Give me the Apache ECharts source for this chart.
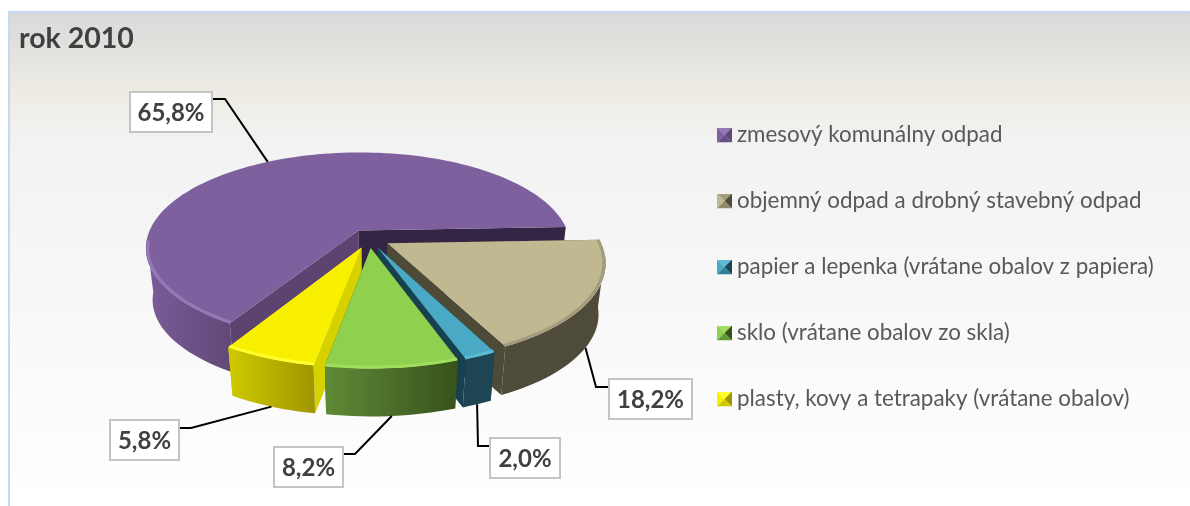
<!DOCTYPE html>
<html>
<head>
<meta charset="utf-8">
<title>rok 2010</title>
<style>
html,body{margin:0;padding:0;background:#fff;}
#main{width:1190px;height:506px;}
</style>
<script src="https://cdn.jsdelivr.net/npm/echarts@6/dist/echarts.min.js"></script>
</head>
<body>
<div id="main"></div>
<script>
/*数据*/
var categories = ['zmesový komunálny odpad','objemný odpad a drobný stavebný odpad','papier a lepenka (vrátane obalov z papiera)','sklo (vrátane obalov zo skla)','plasty, kovy a tetrapaky (vrátane obalov)'];
var values = [65.8,18.2,2.0,8.2,5.8];
var valueLabels = ['65,8%','18,2%','2,0%','8,2%','5,8%'];

/*画的先后顺序：后面的盖住前面的*/
var paintOrder = [0,1,2,4,3];

/*颜色*/
var topColors = ['#7f609e','#c0b891','#4aa9c4','#8fd04f','#f9f000'];
var rimColors = ['#9479b8','#a29c7c','#5bbbd6','#9fdf5f','#ffff2e'];
var sideLeft = ['#7a5c9a','#4f4b3b','#1d4554','#5f8a37','#cfc900'];
var sideRight = ['#604876','#4f4b3b','#1d4554','#37521c','#a09600'];
var wallStart = ['#5c4470','#4d4a38','#17414f','#37521c','#d6d200'];
var wallEnd = ['#352544','#4d4a38','#17414f','#37521c','#d6d200'];
var iconBottom = ['#674c86','#8f8a6c','#2f7f96','#5f9a37','#cfc900'];

/*标签框的位置 x,y,w,h 和折线拐点*/
var labelBoxes = [[130,92,82,40],[609,379,83,40],[490,438,70,40],[274,447,69,40],[110,420,69,40]];
var labelElbows = [[225,99],[596,387],[478,446],[355,454],[191,428]];

/*饼的投影参数*/
var firstAngle = 211, explode = 0.1, cx = 369, cy = 238.5, rx = 212, ry = 94.7, persp = 0.18, depth = 52, baseScale = 0.97;

var total = 0;
for(var n=0;n<values.length;n++){
    total += values[n];
}

function sliceAngles(idx){
    var a = firstAngle;
    for(var i=0;i<idx;i++){
        a += values[i]/total*360;
    }
    a = a%360;
    return [a, a+values[idx]/total*360];
}

//把饼上的点投影到屏幕上，level为1时是底面
function project(deg,r,mid,level){
    var t = deg*Math.PI/180, b = mid*Math.PI/180;
    var u = r*Math.sin(t)+explode*Math.sin(b);
    var v = -r*Math.cos(t)-explode*Math.cos(b);
    var s = 1/(1-persp*v);
    if(level==1){
        return [cx+baseScale*rx*u*s, cy+depth+baseScale*ry*v*s];
    }
    return [cx+rx*u*s, cy+ry*v*s];
}

function arcPoints(a0,a1,mid,level,r){
    var pts = [], steps = Math.max(2,Math.ceil((a1-a0)/2));
    for(var i=0;i<=steps;i++){
        pts.push(project(a0+(a1-a0)*i/steps,r,mid,level));
    }
    return pts;
}

function renderSlice(params,api){
    var idx = api.value(0);
    var ang = sliceAngles(idx), a0 = ang[0], a1 = ang[1], mid = (a0+a1)/2;
    var kids = [];
    var apexTop = project(0,0,mid,0), apexBase = project(0,0,mid,1);

    //两个切面
    kids.push({type:'polygon',silent:true,shape:{points:[apexTop,project(a0,1,mid,0),project(a0,1,mid,1),apexBase]},style:{fill:wallStart[idx]}});
    kids.push({type:'polygon',silent:true,shape:{points:[apexTop,project(a1,1,mid,0),project(a1,1,mid,1),apexBase]},style:{fill:wallEnd[idx]}});

    //外侧面，只画前面看得见的部分，两头到轮廓的切点为止
    var f0 = Math.max(a0,97), f1 = Math.min(a1,264);
    var frontTop = arcPoints(f0,f1,mid,0,1);
    var frontBase = arcPoints(f0,f1,mid,1,1).reverse();
    kids.push({type:'polygon',silent:true,shape:{points:frontTop.concat(frontBase)},style:{
        fill:new echarts.graphic.LinearGradient(0,0,1,0,[{offset:0,color:sideLeft[idx]},{offset:1,color:sideRight[idx]}])
    }});

    //顶面
    var topPts = [apexTop].concat(arcPoints(a0,a1,mid,0,1));
    kids.push({type:'polygon',silent:true,shape:{points:topPts},style:{fill:topColors[idx]}});

    //顶面边缘的高光
    var rimStart = Math.max(a0,88);
    kids.push({type:'polyline',silent:true,shape:{points:arcPoints(rimStart,f1,mid,0,0.992)},style:{fill:null,stroke:rimColors[idx],lineWidth:3}});

    //引线和标签
    var box = labelBoxes[idx], elbow = labelElbows[idx];
    var anchor = project(mid,1,mid,(mid%360>85&&mid%360<280)?1:0);
    var boxEdge = elbow[0]>box[0]+box[2]/2 ? box[0]+box[2] : box[0];
    kids.push({type:'polyline',silent:true,z2:20,shape:{points:[[boxEdge,elbow[1]],elbow,anchor]},style:{fill:null,stroke:'#000',lineWidth:2}});
    kids.push({type:'rect',silent:true,z2:21,shape:{x:box[0],y:box[1],width:box[2],height:box[3]},style:{fill:'#fff',stroke:'#c4c4c4',lineWidth:2}});
    kids.push({type:'text',silent:true,z2:22,style:{
        x:box[0]+box[2]/2,y:box[1]+box[3]/2+1,text:valueLabels[idx],
        fill:'#404040',font:'bold 24px Lato, "Noto Sans", sans-serif',align:'center',verticalAlign:'middle'
    }});
    return {type:'group',children:kids};
}

//图例的小方块，四个三角形
function legendIcon(idx){
    var svg = '<svg xmlns="http://www.w3.org/2000/svg" width="15" height="15">'
        +'<polygon points="0,0 15,0 7.5,7.5" fill="'+rimColors[idx]+'"/>'
        +'<polygon points="0,0 7.5,7.5 0,15" fill="'+topColors[idx]+'"/>'
        +'<polygon points="15,0 15,15 7.5,7.5" fill="'+sideRight[idx]+'"/>'
        +'<polygon points="0,15 15,15 7.5,7.5" fill="'+iconBottom[idx]+'"/>'
        +'</svg>';
    return 'image://data:image/svg+xml;charset=utf-8,'+encodeURIComponent(svg);
}

/*画图*/
function paintForm(){
    var myChart = echarts.init(document.getElementById('main'));
    var seriesList = [], legendData = [];
    for(var i=0;i<paintOrder.length;i++){
        var idx = paintOrder[i];
        seriesList.push({
            name:categories[idx],
            type:'custom',
            coordinateSystem:'none',
            renderItem:renderSlice,
            data:[[idx,values[idx]]]
        });
    }
    for(var j=0;j<categories.length;j++){
        legendData.push({name:categories[j],icon:legendIcon(j)});
    }
    var option = {
        animation:false,
        backgroundColor:'#fff',
        title:{
            text:'rok 2010',
            left:19,
            top:24,
            padding:0,
            textStyle:{color:'#404040',fontFamily:'Lato, "Noto Sans", sans-serif',fontWeight:'bold',fontSize:28.5}
        },
        legend:{
            orient:'vertical',
            left:717,
            top:124,
            padding:0,
            itemWidth:15,
            itemHeight:15,
            itemGap:44,
            selectedMode:false,
            data:legendData,
            textStyle:{color:'#595959',fontFamily:'Lato, "Noto Sans", sans-serif',fontSize:22.4,lineHeight:15}
        },
        graphic:[
            {type:'rect',z:-10,silent:true,shape:{x:8,y:12,width:1182,height:494},style:{
                fill:new echarts.graphic.LinearGradient(0,0,0,1,[
                    {offset:0,color:'#d9d9d9'},
                    {offset:0.17,color:'#eeece4'},
                    {offset:0.26,color:'#f2f2f2'},
                    {offset:1,color:'#ffffff'}
                ])
            }},
            {type:'polyline',z:-9,silent:true,shape:{points:[[9,506],[9,12],[1190,12]]},style:{fill:null,stroke:'#c6d9f0',lineWidth:2}}
        ],
        series:seriesList
    };
    myChart.setOption(option);
}

paintForm();
</script>
</body>
</html>
